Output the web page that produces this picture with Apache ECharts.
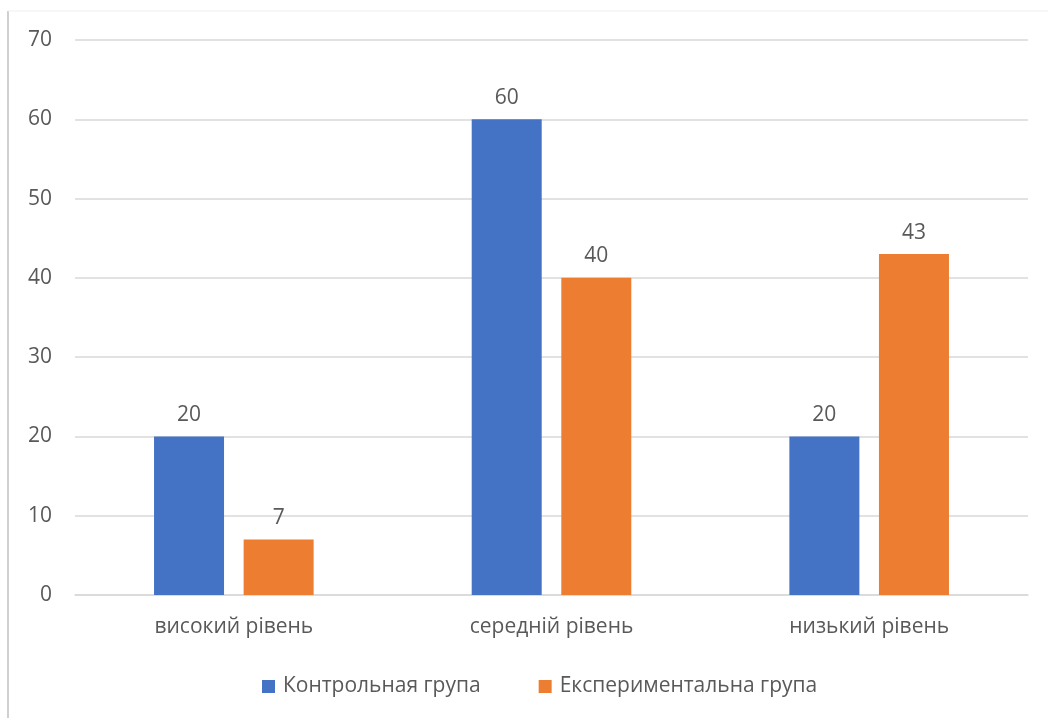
<!DOCTYPE html>
<html>
<head>
<meta charset="utf-8">
<script src="https://cdn.jsdelivr.net/npm/echarts@6/dist/echarts.min.js"></script>
<style>
  html, body { margin: 0; padding: 0; background: #fff; }
  #main { width: 1048px; height: 718px; }
</style>
</head>
<body>
<div id="main"></div>
<script>
const categories = ["високий рівень", "середній рівень", "низький рівень"];
const seriesNames = ["Контрольная група", "Експериментальна група"];
const controlValues = [20, 60, 20];
const experimentalValues = [7, 40, 43];

const textColor = "#595959";
const fontFamily = "'Open Sans', 'Noto Sans', sans-serif";

const chart = echarts.init(document.getElementById("main"));

const barLabel = {
  show: true,
  position: "top",
  distance: 11,
  color: textColor,
  fontSize: 21,
  fontFamily: fontFamily,
};

chart.setOption({
  animation: false,
  textStyle: { fontFamily: fontFamily },
  graphic: [
    {
      type: "line",
      shape: { x1: 8, y1: 11, x2: 8, y2: 718 },
      style: { stroke: "#d0d0d0", lineWidth: 2 },
    },
    {
      type: "line",
      shape: { x1: 8, y1: 11, x2: 1048, y2: 11 },
      style: { stroke: "#efefef", lineWidth: 1 },
    },
  ],
  grid: { left: 75, right: 20, top: 40, bottom: 123 },
  legend: {
    bottom: 16,
    left: 257,
    itemWidth: 13,
    itemHeight: 13,
    itemGap: 58,
    icon: "rect",
    textStyle: { color: textColor, fontSize: 21, fontFamily: fontFamily, padding: [0, 0, 0, 3] },
    data: seriesNames,
  },
  xAxis: {
    type: "category",
    data: categories,
    axisLine: { lineStyle: { color: "#d9d9d9", width: 1.5 } },
    axisTick: { show: false },
    axisLabel: { color: textColor, fontSize: 21, margin: 22, fontFamily: fontFamily },
  },
  yAxis: {
    type: "value",
    min: 0,
    max: 70,
    interval: 10,
    axisLine: { show: false },
    axisTick: { show: false },
    axisLabel: { color: textColor, fontSize: 21, margin: 23, fontFamily: fontFamily },
    splitLine: { lineStyle: { color: "#d9d9d9", width: 1.5 } },
  },
  series: [
    {
      name: seriesNames[0],
      type: "bar",
      data: controlValues,
      barWidth: 70,
      barGap: "28%",
      itemStyle: { color: "#4472C4" },
      label: barLabel,
    },
    {
      name: seriesNames[1],
      type: "bar",
      data: experimentalValues,
      barWidth: 70,
      itemStyle: { color: "#ED7D31" },
      label: barLabel,
    },
  ],
});
</script>
</body>
</html>
